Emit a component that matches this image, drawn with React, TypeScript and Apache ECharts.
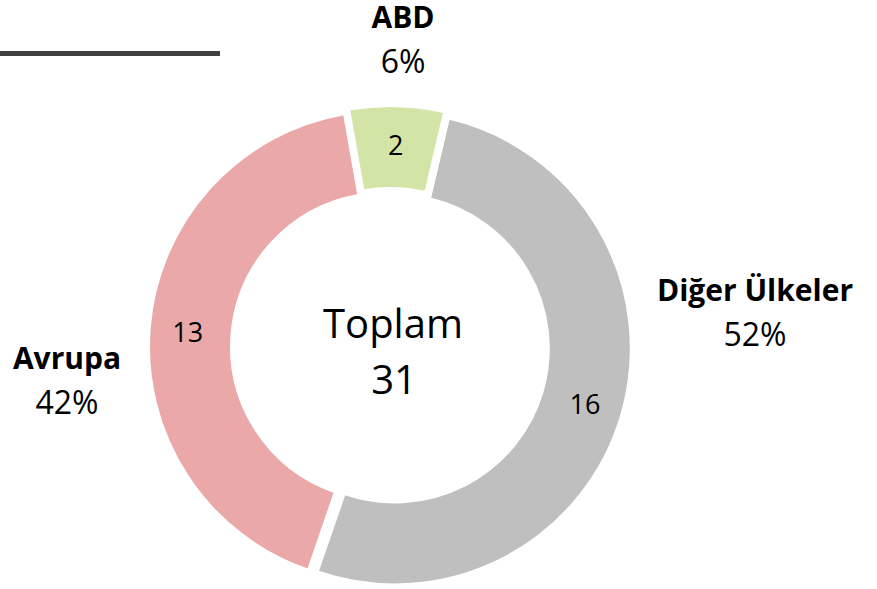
import React, { useEffect, useRef } from 'react';
import * as echarts from 'echarts';

const categories = ['ABD', 'Diğer Ülkeler', 'Avrupa'];
const values = [2, 16, 13];
const sliceColors = ['#D3E5A6', '#BFBFBF', '#EBA8A8'];
const totalTitle = 'Toplam';

// label anchor points (layout only): centre of each two-line label block
const labelAnchors: number[][] = [[403, 45], [755, 318], [67, 386]];

export default function App() {
  const ref = useRef<HTMLDivElement>(null);
  useEffect(() => {
    const chart = echarts.init(ref.current!, null, { renderer: 'svg' });
    const total = values.reduce((a, b) => a + b, 0);
    const font = '"Open Sans", "Noto Sans", sans-serif';
    const center = [390, 347];
    const radius = [154, 236];
    chart.setOption({
      animation: false,
      backgroundColor: '#ffffff',
      series: [
        {
          type: 'pie',
          center,
          radius,
          startAngle: 100,
          clockwise: true,
          selectedMode: 'multiple',
          selectedOffset: 5,
          avoidLabelOverlap: false,
          itemStyle: { borderColor: '#ffffff', borderWidth: 2 },
          select: { itemStyle: { borderColor: '#ffffff', borderWidth: 2 } },
          emphasis: { disabled: true },
          label: {
            show: true,
            position: 'inside',
            formatter: '{c}',
            fontSize: 27,
            fontFamily: font,
            color: '#000000',
          },
          labelLine: { show: false },
          data: categories.map((name, i) => ({
            name,
            value: values[i],
            selected: true,
            itemStyle: { color: sliceColors[i] },
          })),
        },
        {
          type: 'pie',
          center,
          radius,
          startAngle: 100,
          clockwise: true,
          silent: true,
          percentPrecision: 0,
          avoidLabelOverlap: false,
          itemStyle: { color: 'rgba(0,0,0,0)', borderWidth: 0 },
          emphasis: { disabled: true },
          label: {
            show: true,
            position: 'outside',
            align: 'center',
            formatter: '{n|{b}}\n{p|{d}%}',
            rich: {
              n: { fontSize: 30, fontWeight: 'bold', fontFamily: font, color: '#000000', lineHeight: 30, align: 'center' },
              p: { fontSize: 32, fontFamily: font, color: '#000000', lineHeight: 58, align: 'center' },
            },
          },
          labelLine: { show: false },
          labelLayout: (p: any) => ({
            x: labelAnchors[p.dataIndex][0],
            y: labelAnchors[p.dataIndex][1],
            align: 'center',
            verticalAlign: 'middle',
          }),
          data: categories.map((name, i) => ({ name, value: values[i] })),
        },
      ],
      graphic: [
        {
          type: 'line',
          shape: { x1: 0, y1: 53.5, x2: 220, y2: 53.5 },
          style: { stroke: '#404040', lineWidth: 5 },
        },
        {
          type: 'text',
          x: 393,
          y: 322,
          style: {
            text: totalTitle,
            fontSize: 40,
            fontFamily: font,
            fill: '#000000',
            align: 'center',
            verticalAlign: 'middle',
            textAlign: 'center',
            textVerticalAlign: 'middle',
          },
        },
        {
          type: 'text',
          x: 394,
          y: 378,
          style: {
            text: String(total),
            fontSize: 40,
            fontFamily: font,
            fill: '#000000',
            align: 'center',
            verticalAlign: 'middle',
            textAlign: 'center',
            textVerticalAlign: 'middle',
          },
        },
      ],
    });
    return () => chart.dispose();
  }, []);
  return <div ref={ref} style={{ position: 'fixed', left: 0, top: 0, width: 877, height: 589 }} />;
}
